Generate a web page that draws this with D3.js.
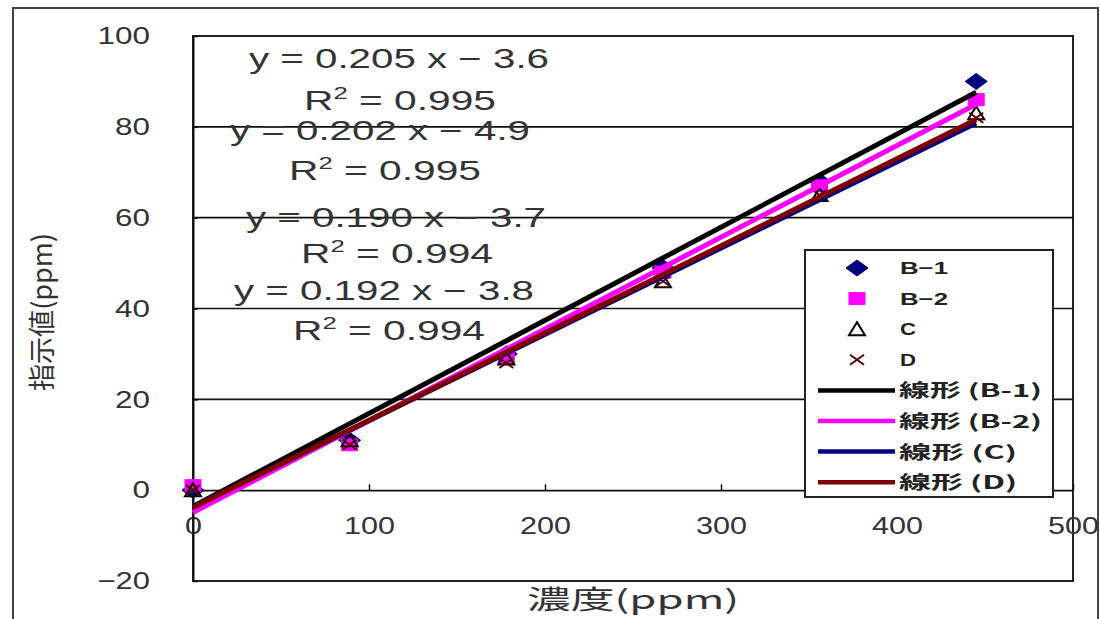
<!DOCTYPE html>
<html><head><meta charset="utf-8">
<script src="https://cdn.jsdelivr.net/npm/d3@7"></script>
<style>body{margin:0;background:#fff}svg{display:block}</style>
</head><body>
<svg id="c" width="1100" height="619"></svg>
<script>
// ---- data ----
const concentrations = [0, 89, 178, 267, 356, 445];
const seriesNames = ["B-1", "B-2", "C", "D"];
const valuesB1 = [0, 11, 30, 49, 68, 90];
const valuesB2 = [1, 10, 29, 48, 67, 86];
const valuesC  = [0, 11, 29, 46, 65, 83];
const valuesD  = [0, 10, 28, 46, 65, 82];
const slopes = [0.205, 0.202, 0.190, 0.192];
const intercepts = [-3.6, -4.9, -3.7, -3.8];
const rSquared = [0.995, 0.995, 0.994, 0.994];
const xTicks = [0, 100, 200, 300, 400, 500];
const yTicks = [-20, 0, 20, 40, 60, 80, 100];
const trendNames = ["線形 (B-1)", "線形 (B-2)", "線形 (C)", "線形 (D)"];

// ---- style ----
const markerColors = ["#000080", "#ff00ff", "#000000", "#500000"];
const lineColors = ["#000000", "#ff00ff", "#000080", "#800000"];
const font = "'Liberation Sans', Arial, sans-serif";
const cjk = "'Noto Sans CJK JP', sans-serif";

const svg = d3.select("#c");
const x = d3.scaleLinear().domain([0, 500]).range([193, 1073]);
const y = d3.scaleLinear().domain([-20, 100]).range([581, 36]);

// outer border
svg.append("rect").attr("x", 13).attr("y", 8).attr("width", 1085).attr("height", 640)
  .attr("fill", "#fff").attr("stroke", "#444").attr("stroke-width", 2);

// plot area
svg.append("rect").attr("x", x(0)).attr("y", y(100)).attr("width", x(500) - x(0)).attr("height", y(-20) - y(100))
  .attr("fill", "#fff").attr("stroke", "#222").attr("stroke-width", 2);

// gridlines
svg.append("g").selectAll("line").data(yTicks.filter(v => v > 0 && v < 100)).join("line")
  .attr("x1", x(0)).attr("x2", x(500)).attr("y1", d => y(d)).attr("y2", d => y(d))
  .attr("stroke", "#111").attr("stroke-width", 1.6);

// x axis at y=0
const xAxis = svg.append("g").attr("transform", `translate(0,${y(0)})`)
  .call(d3.axisBottom(x).tickValues(xTicks).tickSizeInner(-6).tickSizeOuter(0).tickFormat(d3.format("d")));
xAxis.select(".domain").attr("stroke", "#111").attr("stroke-width", 1.8);
xAxis.selectAll(".tick line").attr("stroke", "#111").attr("stroke-width", 1.5);
xAxis.selectAll(".tick text").attr("y", 44).attr("dy", 0).attr("font-family", font).attr("font-size", 24)
  .attr("fill", "#333").attr("textLength", d => String(d).length * 17).attr("lengthAdjust", "spacingAndGlyphs");

// y axis
const yAxis = svg.append("g").attr("transform", `translate(${x(0)},0)`)
  .call(d3.axisLeft(y).tickValues(yTicks).tickSizeInner(-5).tickSizeOuter(0).tickPadding(43)
    .tickFormat(d => d < 0 ? "\u2212" + Math.abs(d) : String(d)));
yAxis.select(".domain").attr("stroke", "#111").attr("stroke-width", 2);
yAxis.selectAll(".tick line").attr("stroke", "#111").attr("stroke-width", 1.5);
yAxis.selectAll(".tick text").attr("font-family", font).attr("font-size", 24).attr("fill", "#333")
  .attr("textLength", d => (d < 0 ? String(Math.abs(d)).length + 1 : String(d).length) * 17.5)
  .attr("lengthAdjust", "spacingAndGlyphs");

// axis titles
svg.append("text").attr("x", 633).attr("y", 609).attr("text-anchor", "middle")
  .attr("font-family", cjk).attr("font-size", 26).attr("fill", "#333")
  .attr("textLength", 212).attr("lengthAdjust", "spacingAndGlyphs").text("濃度(ppm)");
svg.append("text").attr("transform", "translate(52,312) rotate(-90)").attr("text-anchor", "middle")
  .attr("font-family", cjk).attr("font-size", 27).attr("fill", "#333")
  .attr("textLength", 158).attr("lengthAdjust", "spacingAndGlyphs").text("指示値(ppm)");

// markers
const allValues = [valuesB1, valuesB2, valuesC, valuesD];
function markerPath(k) {
  if (k === 0) return "M0,-8L11,0L0,8L-11,0Z";
  if (k === 1) return "M-8,-6H8V6H-8Z";
  if (k === 2) return "M0,-7L8,6H-8Z";
  return "M-7,-5L7,5M-7,5L7,-5";
}
allValues.forEach((vals, k) => {
  svg.append("g").selectAll("path").data(vals.map((v, i) => [concentrations[i], v])).join("path")
    .attr("transform", d => `translate(${x(d[0])},${y(d[1])})`)
    .attr("d", markerPath(k))
    .attr("fill", k >= 2 ? "none" : markerColors[k])
    .attr("stroke", markerColors[k]).attr("stroke-width", k >= 2 ? 2 : 1);
});

// trendlines
const line = d3.line().x(d => x(d[0])).y(d => y(d[1]));
const xr = d3.extent(concentrations);
slopes.forEach((m, k) => {
  svg.append("path").attr("d", line(xr.map(v => [v, m * v + intercepts[k]])))
    .attr("fill", "none").attr("stroke", lineColors[k]).attr("stroke-width", 5);
});

// equation labels
const eqPos = [[399, 68, 110], [380, 140, 180], [396, 227, 263], [384, 300, 340]];
slopes.forEach((m, k) => {
  const [cx, by, rb] = eqPos[k];
  svg.append("text").attr("x", cx).attr("y", by).attr("text-anchor", "middle")
    .attr("font-family", font).attr("font-size", 27).attr("fill", "#333")
    .attr("textLength", 300).attr("lengthAdjust", "spacingAndGlyphs")
    .text(`y = ${m.toFixed(3)} x \u2212 ${Math.abs(intercepts[k]).toFixed(1)}`);
  const t = svg.append("text").attr("x", cx + (k % 2 === 0 ? 1 : 5)).attr("y", rb).attr("text-anchor", "middle")
    .attr("font-family", font).attr("font-size", 27).attr("fill", "#333")
    .attr("textLength", 192).attr("lengthAdjust", "spacingAndGlyphs");
  t.append("tspan").text("R");
  t.append("tspan").attr("dy", -11).attr("font-size", 17).text("2");
  t.append("tspan").attr("dy", 11).text(` = ${rSquared[k].toFixed(3)}`);
});

// legend
const lg = svg.append("g");
lg.append("rect").attr("x", 805).attr("y", 250).attr("width", 248).attr("height", 247)
  .attr("fill", "#fff").attr("stroke", "#222").attr("stroke-width", 2);
const rowY = i => 268 + i * 30.6;
seriesNames.forEach((n, k) => {
  lg.append("path").attr("transform", `translate(857,${rowY(k)})`).attr("d", markerPath(k))
    .attr("fill", k >= 2 ? "none" : markerColors[k]).attr("stroke", markerColors[k]).attr("stroke-width", k >= 2 ? 2 : 1);
  lg.append("text").attr("x", 900).attr("y", rowY(k) + 6).attr("font-family", font).attr("font-weight", "bold")
    .attr("font-size", 17).attr("fill", "#222").attr("textLength", n.length * 16).attr("lengthAdjust", "spacingAndGlyphs")
    .text(n.replace("-", "\u2212"));
});
trendNames.forEach((n, k) => {
  const yy = rowY(k + 4);
  lg.append("line").attr("x1", 818).attr("x2", 895).attr("y1", yy).attr("y2", yy)
    .attr("stroke", lineColors[k]).attr("stroke-width", 4.5);
  lg.append("text").attr("x", 899).attr("y", yy + 7).attr("font-family", cjk).attr("font-weight", "bold")
    .attr("font-size", 18).attr("fill", "#222").attr("textLength", k < 2 ? 143 : 118).attr("lengthAdjust", "spacingAndGlyphs")
    .text(n);
});
</script>
</body></html>
